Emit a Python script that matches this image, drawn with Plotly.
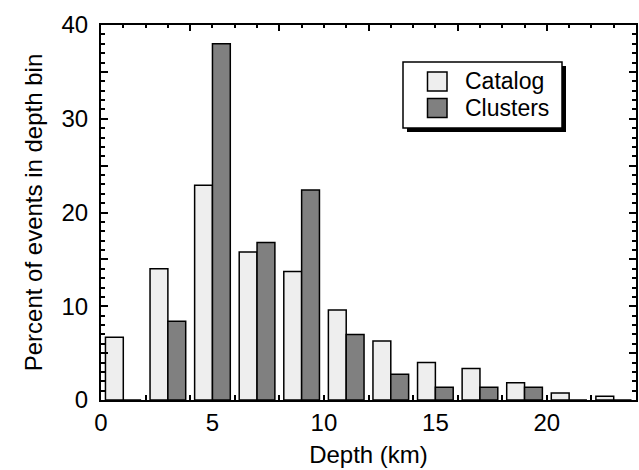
import plotly.graph_objects as go

# Data (percent of events per 2-km depth bin)
bin_centers = [1, 3, 5, 7, 9, 11, 13, 15, 17, 19, 21, 23]
catalog = [6.7, 14.0, 22.9, 15.8, 13.7, 9.6, 6.3, 4.0, 3.35, 1.85, 0.75, 0.4]
clusters = [0.0, 8.4, 38.0, 16.8, 22.4, 7.0, 2.75, 1.35, 1.35, 1.35, 0.0, 0.0]
series_names = ["Catalog", "Clusters"]
x_tick_vals = [0, 5, 10, 15, 20]
y_tick_vals = [0, 5, 10, 15, 20, 25, 30, 35, 40]
y_tick_text = ["0", "", "10", "", "20", "", "30", "", "40"]

CAT_COLOR = "#eeeeee"
CLU_COLOR = "#808080"
FONT = "Liberation Sans, Arial, Helvetica, sans-serif"

W, H = 639, 470
L, R, T, B = 101, 3, 25, 70
PW = W - L - R
PH = H - T - B


def px(x):
    return (x - L) / PW


def py(y):
    return (H - B - y) / PH


fig = go.Figure()
fig.add_trace(go.Bar(x=bin_centers, y=catalog, name=series_names[0],
                     marker=dict(color=CAT_COLOR, line=dict(color="black", width=1.5)),
                     showlegend=False))
fig.add_trace(go.Bar(x=bin_centers, y=clusters, name=series_names[1],
                     marker=dict(color=CLU_COLOR, line=dict(color="black", width=1.5)),
                     showlegend=False))
# invisible helper trace to activate the mirrored top/right axes
fig.add_trace(go.Scatter(x=[0], y=[0], xaxis="x2", yaxis="y2", mode="markers",
                         marker=dict(opacity=0), hoverinfo="skip", showlegend=False))

tickfont = dict(family=FONT, size=24, color="black")

fig.update_layout(
    width=W, height=H,
    margin=dict(l=L, r=R, t=T, b=B),
    paper_bgcolor="white", plot_bgcolor="white",
    barmode="group", bargap=0.2, bargroupgap=0,
    font=dict(family=FONT, color="black"),
    xaxis=dict(range=[0, 24], showline=True, linecolor="black", linewidth=2,
               showgrid=False, zeroline=False,
               tickmode="array", tickvals=x_tick_vals, ticks="inside", ticklen=0,
               tickfont=tickfont,
               minor=dict(tickmode="array", tickvals=list(range(2, 24, 2)),
                          ticks="inside", ticklen=5, tickwidth=1.5, tickcolor="black",
                          showgrid=False),
               title=dict(text="Depth (km)", font=dict(family=FONT, size=24), standoff=11)),
    yaxis=dict(range=[0, 40], showline=True, linecolor="black", linewidth=2,
               showgrid=False, zeroline=False,
               tickmode="array", tickvals=y_tick_vals, ticktext=y_tick_text,
               ticks="inside", ticklen=7, tickwidth=1.5, tickcolor="black",
               tickfont=tickfont, ticklabelstandoff=6,
               minor=dict(dtick=1, tick0=0, ticks="inside", ticklen=4, tickwidth=1.5,
                          tickcolor="black", showgrid=False),
               title=dict(text="Percent of events in depth bin",
                          font=dict(family=FONT, size=24), standoff=12)),
    xaxis2=dict(range=[0, 24], overlaying="x", side="top", anchor="y2",
                showline=True, linecolor="black", linewidth=2, showgrid=False,
                zeroline=False, showticklabels=False,
                tick0=0, dtick=4, ticks="inside", ticklen=6, tickwidth=1.5,
                tickcolor="black",
                minor=dict(dtick=1, tick0=0, ticks="inside", ticklen=3, tickwidth=1.5,
                           tickcolor="black", showgrid=False)),
    yaxis2=dict(range=[0, 40], overlaying="y", side="right", anchor="x2",
                showline=True, linecolor="black", linewidth=2, showgrid=False,
                zeroline=False, showticklabels=False,
                tick0=0, dtick=5, ticks="inside", ticklen=7, tickwidth=1.5,
                tickcolor="black",
                minor=dict(dtick=1, tick0=0, ticks="inside", ticklen=4, tickwidth=1.5,
                           tickcolor="black", showgrid=False)),
)

# Custom legend: shadow, box, swatches, labels
shapes = []
bx0, bx1, by0, by1 = 403, 562, 62, 128
shapes.append(dict(type="rect", xref="paper", yref="paper",
                   x0=px(bx0 + 4), x1=px(bx1 + 4), y0=py(by1 + 4), y1=py(by0 + 4),
                   fillcolor="black", line=dict(width=0), layer="above"))
shapes.append(dict(type="rect", xref="paper", yref="paper",
                   x0=px(bx0), x1=px(bx1), y0=py(by1), y1=py(by0),
                   fillcolor="white", line=dict(color="black", width=1.5), layer="above"))
sw = [(CAT_COLOR, 72, 91), (CLU_COLOR, 98.5, 117.5)]
for col, y0, y1 in sw:
    shapes.append(dict(type="rect", xref="paper", yref="paper",
                       x0=px(427.5), x1=px(447), y0=py(y1), y1=py(y0),
                       fillcolor=col, line=dict(color="black", width=1.5), layer="above"))
fig.update_layout(shapes=shapes)

for name, (col, y0, y1) in zip(series_names, sw):
    fig.add_annotation(xref="paper", yref="paper", x=px(463), y=py((y0 + y1) / 2),
                       text=name, showarrow=False, xanchor="left", yanchor="middle",
                       font=dict(family=FONT, size=23, color="black"))

fig.write_html("out.html")
